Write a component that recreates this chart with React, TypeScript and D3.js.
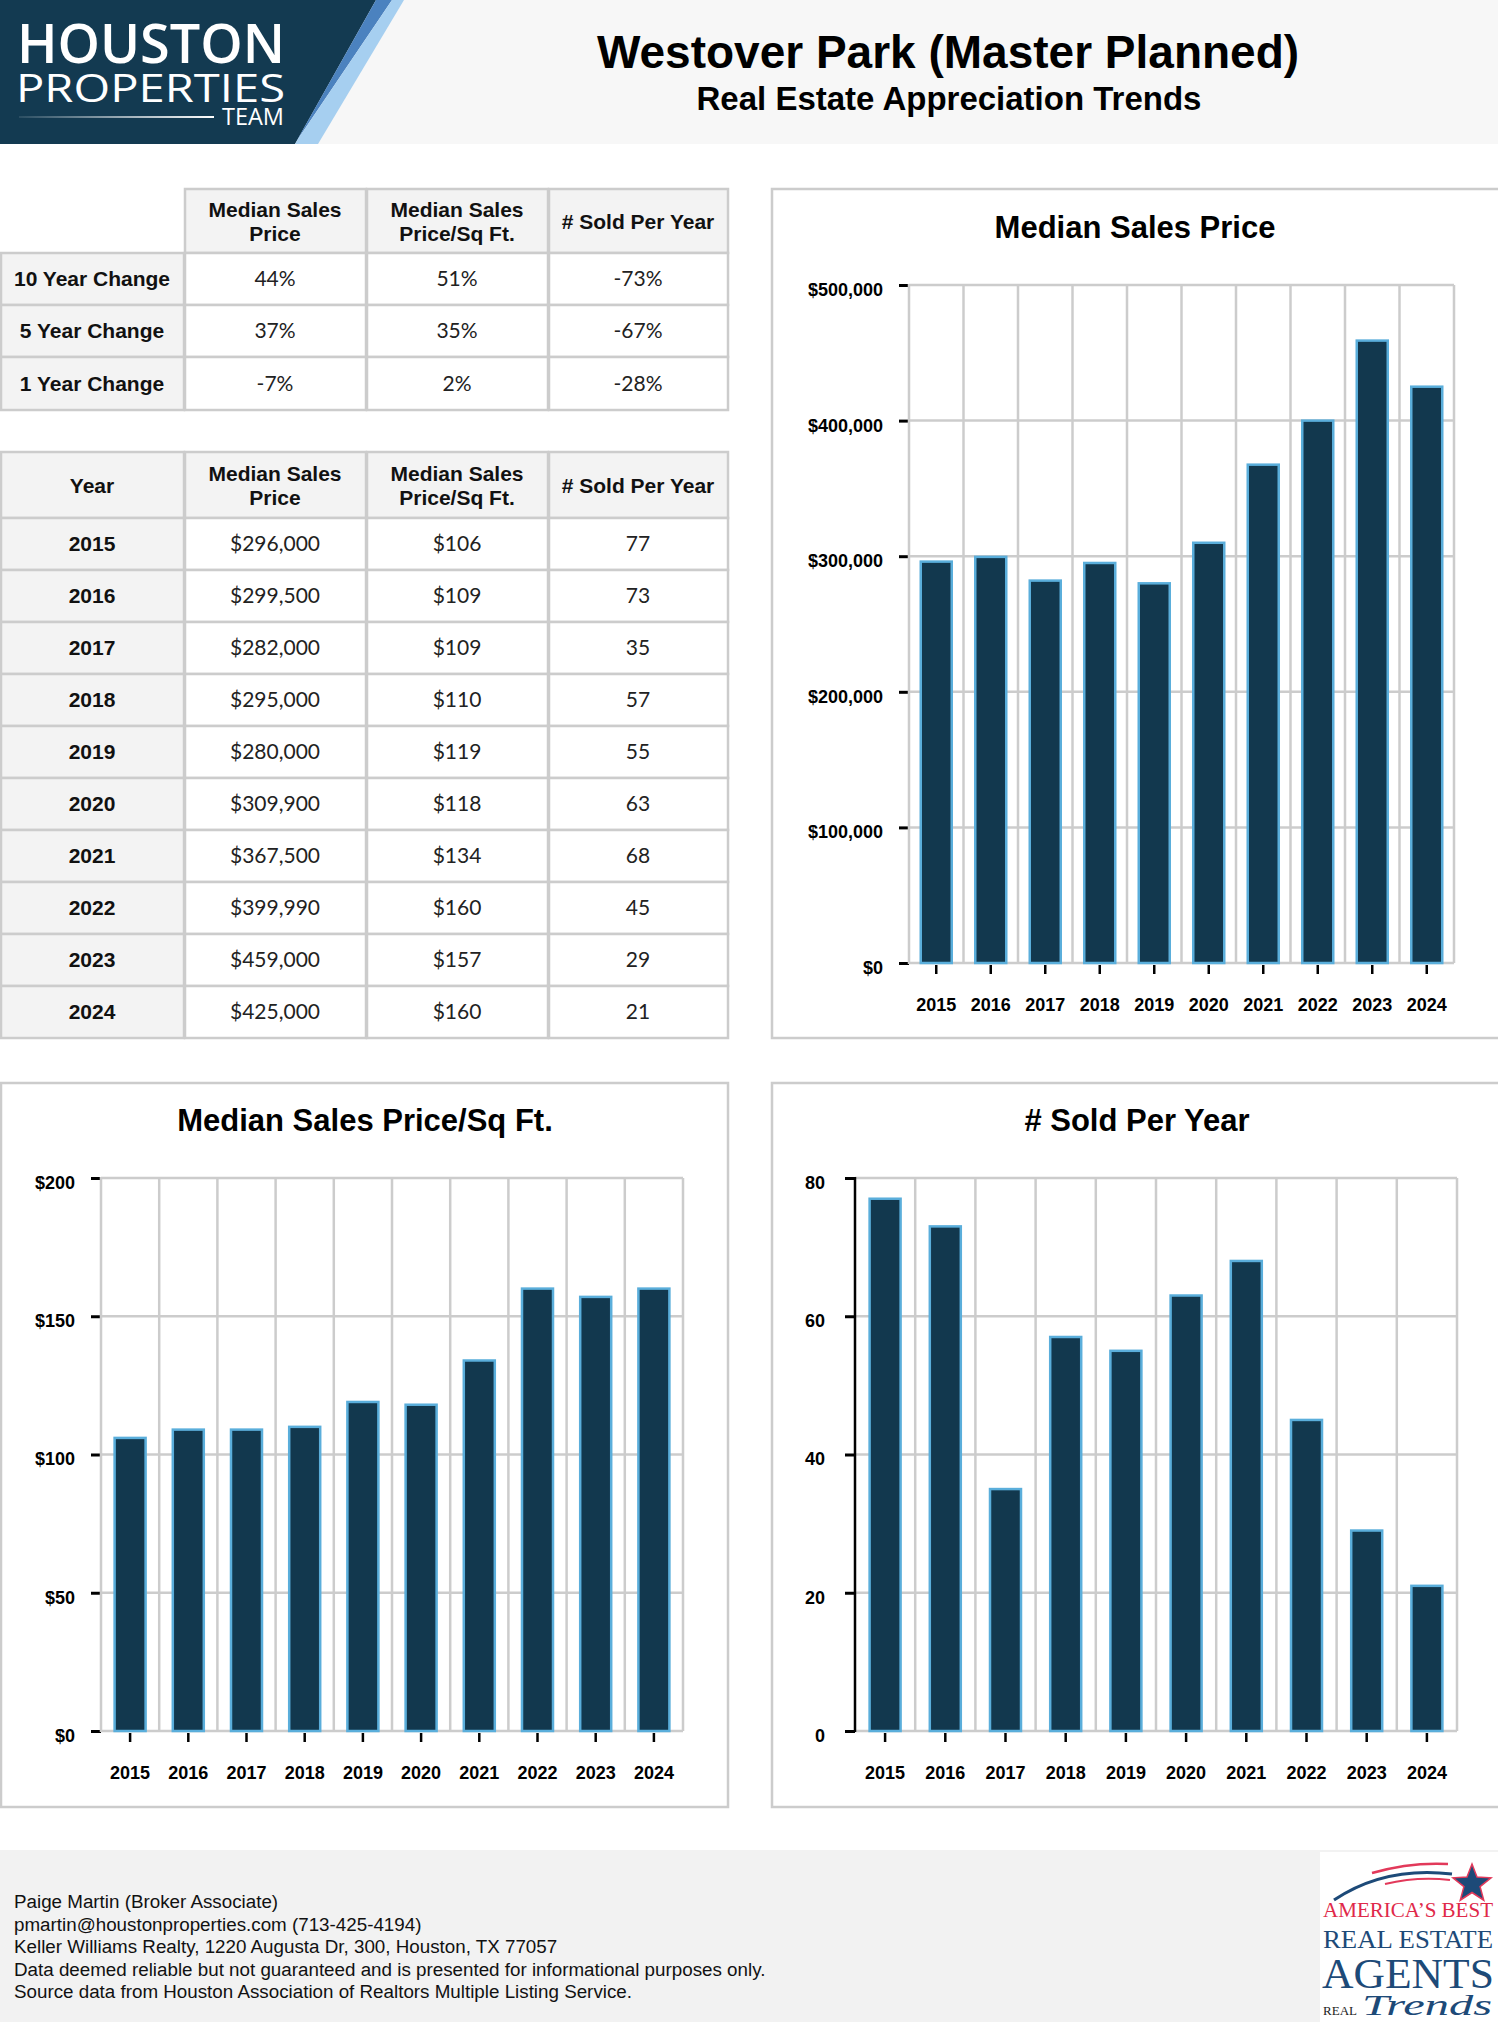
import React, { useEffect, useRef } from 'react';
import * as d3 from 'd3';

// chart data
const years = ['2015', '2016', '2017', '2018', '2019', '2020', '2021', '2022', '2023', '2024'];
const medianPrice = [296000, 299500, 282000, 295000, 280000, 309900, 367500, 399990, 459000, 425000];
const pricePerSqFt = [106, 109, 109, 110, 119, 118, 134, 160, 157, 160];
const soldPerYear = [77, 73, 35, 57, 55, 63, 68, 45, 29, 21];

const priceTicks = [0, 100000, 200000, 300000, 400000, 500000];
const sqftTicks = [0, 50, 100, 150, 200];
const soldTicks = [0, 20, 40, 60, 80];

// summary table
const changeLabels = ['10 Year Change', '5 Year Change', '1 Year Change'];
const changePrice = ['44%', '37%', '-7%'];
const changeSqFt = ['51%', '35%', '2%'];
const changeSold = ['-73%', '-67%', '-28%'];

const columnHeaders = [['Median Sales', 'Price'], ['Median Sales', 'Price/Sq Ft.'], ['# Sold Per Year']];

const footerLines = [
  'Paige Martin (Broker Associate)',
  'pmartin@houstonproperties.com (713-425-4194)',
  'Keller Williams Realty, 1220 Augusta Dr, 300, Houston, TX 77057',
  'Data deemed reliable but not guaranteed and is presented for informational purposes only.',
  'Source data from Houston Association of Realtors Multiple Listing Service.',
];

const NAVY = '#12384e';
const BAR_STROKE = '#5aaedb';
const GRID = '#cccccc';
const CELL_BG = '#f3f3f3';
const SANS = '"Liberation Sans", Arial, Helvetica, sans-serif';
const LATO = 'Lato, "Open Sans", sans-serif';
const SERIF = '"Liberation Serif", "DejaVu Serif", serif';

const colX = [0, 184, 366, 548, 728];

const drawHeader = (svg) => {
  svg.append('rect').attr('x', 0).attr('y', 0).attr('width', 1498).attr('height', 144).attr('fill', '#f7f7f7');

  // logo block
  svg.append('polygon').attr('points', '0,0 376,0 295,144 0,144').attr('fill', '#133a51');
  svg.append('polygon').attr('points', '376,0 392,0 300,136 296,142').attr('fill', '#4b82bf');
  svg.append('polygon').attr('points', '392,0 404,0 318,144 295,144 300,136').attr('fill', '#a6cff0');

  svg.append('text').attr('x', 17).attr('y', 63).attr('textLength', 268).attr('lengthAdjust', 'spacingAndGlyphs')
    .attr('font-family', '"Open Sans", sans-serif').attr('font-weight', 600).attr('font-size', 55).attr('fill', '#fff')
    .text('HOUSTON');
  svg.append('text').attr('x', 16).attr('y', 102).attr('textLength', 269).attr('lengthAdjust', 'spacingAndGlyphs')
    .attr('font-family', '"Open Sans", sans-serif').attr('font-weight', 400).attr('font-size', 39).attr('fill', '#fff')
    .text('PROPERTIES');

  const defs = svg.append('defs');
  const lg = defs.append('linearGradient').attr('id', 'logo-line').attr('x1', '0%').attr('x2', '100%');
  lg.append('stop').attr('offset', '0%').attr('stop-color', '#fff').attr('stop-opacity', 0.1);
  lg.append('stop').attr('offset', '100%').attr('stop-color', '#fff').attr('stop-opacity', 1);
  svg.append('rect').attr('x', 19).attr('y', 116).attr('width', 195).attr('height', 2).attr('fill', 'url(#logo-line)');
  svg.append('text').attr('x', 222).attr('y', 125).attr('textLength', 62).attr('lengthAdjust', 'spacingAndGlyphs')
    .attr('font-family', '"Open Sans", sans-serif').attr('font-size', 23).attr('fill', '#fff')
    .text('TEAM');

  svg.append('text').attr('x', 948).attr('y', 68).attr('text-anchor', 'middle')
    .attr('font-family', SANS).attr('font-weight', 700).attr('font-size', 46).attr('fill', '#000')
    .text('Westover Park (Master Planned)');
  svg.append('text').attr('x', 949).attr('y', 110).attr('text-anchor', 'middle')
    .attr('font-family', SANS).attr('font-weight', 700).attr('font-size', 33).attr('fill', '#000')
    .text('Real Estate Appreciation Trends');
};

const cell = (g, x0, x1, y0, y1, bg) => {
  g.append('rect').attr('x', x0 + 1).attr('y', y0).attr('width', x1 - x0 - 1).attr('height', y1 - y0)
    .attr('fill', bg).attr('stroke', GRID).attr('stroke-width', 2.5);
};

const cellText = (g, x, y, txt, bold) => {
  g.append('text').attr('x', x).attr('y', y).attr('dy', '0.35em').attr('text-anchor', 'middle')
    .attr('font-family', bold ? SANS : LATO).attr('font-weight', bold ? 700 : 400)
    .attr('font-size', 21).attr('fill', bold ? '#111' : '#222').text(txt);
};

const headerRow = (g, y0, y1, firstLabel) => {
  const mid = (y0 + y1) / 2 + 1;
  if (firstLabel) {
    cell(g, colX[0], colX[1], y0, y1, CELL_BG);
    cellText(g, (colX[0] + colX[1]) / 2, mid, firstLabel, true);
  }
  columnHeaders.forEach((lines, i) => {
    cell(g, colX[i + 1], colX[i + 2], y0, y1, CELL_BG);
    const cx = (colX[i + 1] + colX[i + 2]) / 2;
    lines.forEach((ln, j) => {
      cellText(g, cx, mid + (j - (lines.length - 1) / 2) * 24, ln, true);
    });
  });
};

const drawTables = (svg) => {
  const g = svg.append('g');
  // summary
  const t1 = [189, 253, 305, 357, 410];
  headerRow(g, t1[0], t1[1], null);
  changeLabels.forEach((lab, i) => {
    const y0 = t1[i + 1], y1 = t1[i + 2];
    const mid = (y0 + y1) / 2;
    cell(g, colX[0], colX[1], y0, y1, CELL_BG);
    cellText(g, (colX[0] + colX[1]) / 2, mid, lab, true);
    [changePrice[i], changeSqFt[i], changeSold[i]].forEach((v, j) => {
      cell(g, colX[j + 1], colX[j + 2], y0, y1, '#fff');
      cellText(g, (colX[j + 1] + colX[j + 2]) / 2, mid, v, false);
    });
  });

  // yearly
  const top = 452, headBottom = 518, rowH = 52;
  headerRow(g, top, headBottom, 'Year');
  const fPrice = d3.format('$,');
  years.forEach((yr, i) => {
    const y0 = headBottom + i * rowH, y1 = y0 + rowH;
    const mid = (y0 + y1) / 2;
    cell(g, colX[0], colX[1], y0, y1, CELL_BG);
    cellText(g, (colX[0] + colX[1]) / 2, mid, yr, true);
    [fPrice(medianPrice[i]), '$' + pricePerSqFt[i], String(soldPerYear[i])].forEach((v, j) => {
      cell(g, colX[j + 1], colX[j + 2], y0, y1, '#fff');
      cellText(g, (colX[j + 1] + colX[j + 2]) / 2, mid, v, false);
    });
  });
};

const drawBarChart = (svg, cfg) => {
  const { box, title, titleX, titleY, left, right, top, bottom, values, ticks, fmt, axisColor, labelPad } = cfg;
  const g = svg.append('g');

  g.append('rect').attr('x', box[0]).attr('y', box[1]).attr('width', box[2]).attr('height', box[3])
    .attr('fill', '#fff').attr('stroke', GRID).attr('stroke-width', 2.5);
  g.append('text').attr('x', titleX).attr('y', titleY).attr('text-anchor', 'middle')
    .attr('font-family', SANS).attr('font-weight', 700).attr('font-size', 31).attr('fill', '#000')
    .text(title);

  const x = d3.scaleBand().domain(years).range([left, right]);
  const y = d3.scaleLinear().domain([0, ticks[ticks.length - 1]]).range([bottom, top]);
  const barW = 31;

  // grid
  g.append('g').selectAll('line').data(years).enter().append('line')
    .attr('x1', d => x(d) + x.bandwidth()).attr('x2', d => x(d) + x.bandwidth())
    .attr('y1', top).attr('y2', bottom)
    .attr('stroke', GRID).attr('stroke-width', 2.5);
  g.append('g').selectAll('line').data(ticks).enter().append('line')
    .attr('x1', left).attr('x2', right)
    .attr('y1', d => y(d)).attr('y2', d => y(d))
    .attr('stroke', GRID).attr('stroke-width', 2.5);

  // bars
  g.append('g').selectAll('rect').data(values).enter().append('rect')
    .attr('x', (d, i) => x(years[i]) + (x.bandwidth() - barW) / 2)
    .attr('y', d => y(d))
    .attr('width', barW)
    .attr('height', d => bottom - y(d))
    .attr('fill', NAVY).attr('stroke', BAR_STROKE).attr('stroke-width', 2.5);

  // y axis
  const ya = g.append('g').attr('transform', `translate(${left},0)`)
    .call(d3.axisLeft(y).tickValues(ticks).tickFormat(fmt).tickSize(10).tickPadding(labelPad));
  ya.select('.domain').remove();
  ya.selectAll('line').attr('stroke', '#000').attr('stroke-width', 3);
  ya.selectAll('text').attr('dy', '0.58em').attr('font-family', SANS).attr('font-weight', 700)
    .attr('font-size', 18).attr('fill', '#000');
  g.append('line').attr('x1', left).attr('x2', left).attr('y1', top - 1).attr('y2', bottom + 1)
    .attr('stroke', axisColor).attr('stroke-width', 2.5);

  // x axis
  const xa = g.append('g').attr('transform', `translate(0,${bottom + 2})`)
    .call(d3.axisBottom(x).tickSize(9).tickSizeOuter(0));
  xa.select('.domain').remove();
  xa.selectAll('line').attr('stroke', '#000').attr('stroke-width', 2.5);
  xa.selectAll('text').attr('y', 46).attr('dy', 0).attr('font-family', SANS).attr('font-weight', 700)
    .attr('font-size', 18).attr('fill', '#000');
};

const drawFooter = (svg) => {
  svg.append('rect').attr('x', 0).attr('y', 1850).attr('width', 1498).attr('height', 172).attr('fill', '#f2f2f2');
  svg.append('g').selectAll('text').data(footerLines).enter().append('text')
    .attr('x', 14).attr('y', (d, i) => 1908 + i * 22.5)
    .attr('font-family', SANS).attr('font-size', 18.8).attr('fill', '#111')
    .text(d => d);

  // award logo
  const g = svg.append('g');
  g.append('rect').attr('x', 1320).attr('y', 1852).attr('width', 178).attr('height', 170).attr('fill', '#fff');
  g.append('path').attr('d', 'M1334,1900 Q1385,1866 1452,1874').attr('fill', 'none').attr('stroke', '#1d4a78').attr('stroke-width', 3);
  g.append('path').attr('d', 'M1372,1873 Q1410,1862 1448,1864').attr('fill', 'none').attr('stroke', '#e2395a').attr('stroke-width', 2.5);
  g.append('path').attr('d', 'M1385,1884 Q1418,1876 1450,1880').attr('fill', 'none').attr('stroke', '#e2395a').attr('stroke-width', 2);
  const star = d3.range(10).map(i => {
    const r = i % 2 === 0 ? 20 : 8.5;
    const a = -Math.PI / 2 + (i * Math.PI) / 5;
    return [1472 + r * Math.cos(a), 1884 + r * Math.sin(a)];
  });
  g.append('polygon').attr('points', star.map(p => p.join(',')).join(' '))
    .attr('fill', '#1d4a78').attr('stroke', '#e2395a').attr('stroke-width', 1.5);
  g.append('text').attr('x', 1323).attr('y', 1917).attr('textLength', 170).attr('lengthAdjust', 'spacingAndGlyphs')
    .attr('font-family', SERIF).attr('font-size', 20).attr('fill', '#e0294a').text('AMERICA\u2019S BEST');
  g.append('text').attr('x', 1323).attr('y', 1948).attr('textLength', 170).attr('lengthAdjust', 'spacingAndGlyphs')
    .attr('font-family', SERIF).attr('font-size', 26).attr('fill', '#1d4a78').text('REAL ESTATE');
  g.append('text').attr('x', 1322).attr('y', 1988).attr('textLength', 172).attr('lengthAdjust', 'spacingAndGlyphs')
    .attr('font-family', SERIF).attr('font-size', 43).attr('fill', '#1d4a78').text('AGENTS');
  g.append('text').attr('x', 1323).attr('y', 2015).attr('textLength', 34).attr('lengthAdjust', 'spacingAndGlyphs')
    .attr('font-family', SERIF).attr('font-size', 13).attr('fill', '#222').text('REAL');
  g.append('text').attr('x', 1362).attr('y', 2015).attr('textLength', 130).attr('lengthAdjust', 'spacingAndGlyphs')
    .attr('font-family', SERIF).attr('font-style', 'italic').attr('font-size', 30).attr('fill', '#1d4a78').text('Trends');
};

const App = () => {
  const chartRef = useRef<SVGSVGElement>(null);

  useEffect(() => {
    const svg = d3.select(chartRef.current);
    svg.selectAll('*').remove();
    svg.append('rect').attr('width', 1498).attr('height', 2022).attr('fill', '#fff');

    drawHeader(svg);
    drawTables(svg);

    drawBarChart(svg, {
      box: [772, 189, 740, 849], title: 'Median Sales Price', titleX: 1135, titleY: 238,
      left: 909, right: 1454, top: 285, bottom: 963, labelPad: 16,
      values: medianPrice, ticks: priceTicks, fmt: d3.format('$,'), axisColor: GRID,
    });
    drawBarChart(svg, {
      box: [1, 1083, 727, 724], title: 'Median Sales Price/Sq Ft.', titleX: 365, titleY: 1131,
      left: 101, right: 683, top: 1178, bottom: 1731, labelPad: 16,
      values: pricePerSqFt, ticks: sqftTicks, fmt: d3.format('$'), axisColor: GRID,
    });
    drawBarChart(svg, {
      box: [772, 1083, 740, 724], title: '# Sold Per Year', titleX: 1137, titleY: 1131,
      left: 855, right: 1457, top: 1178, bottom: 1731, labelPad: 20,
      values: soldPerYear, ticks: soldTicks, fmt: d3.format('d'), axisColor: '#000',
    });

    drawFooter(svg);
  }, []);

  return (
    <div style={{ position: 'absolute', left: 0, top: 0, width: 1498, height: 2022 }}>
      <svg ref={chartRef} width={1498} height={2022}></svg>
    </div>
  );
};

export default App;
